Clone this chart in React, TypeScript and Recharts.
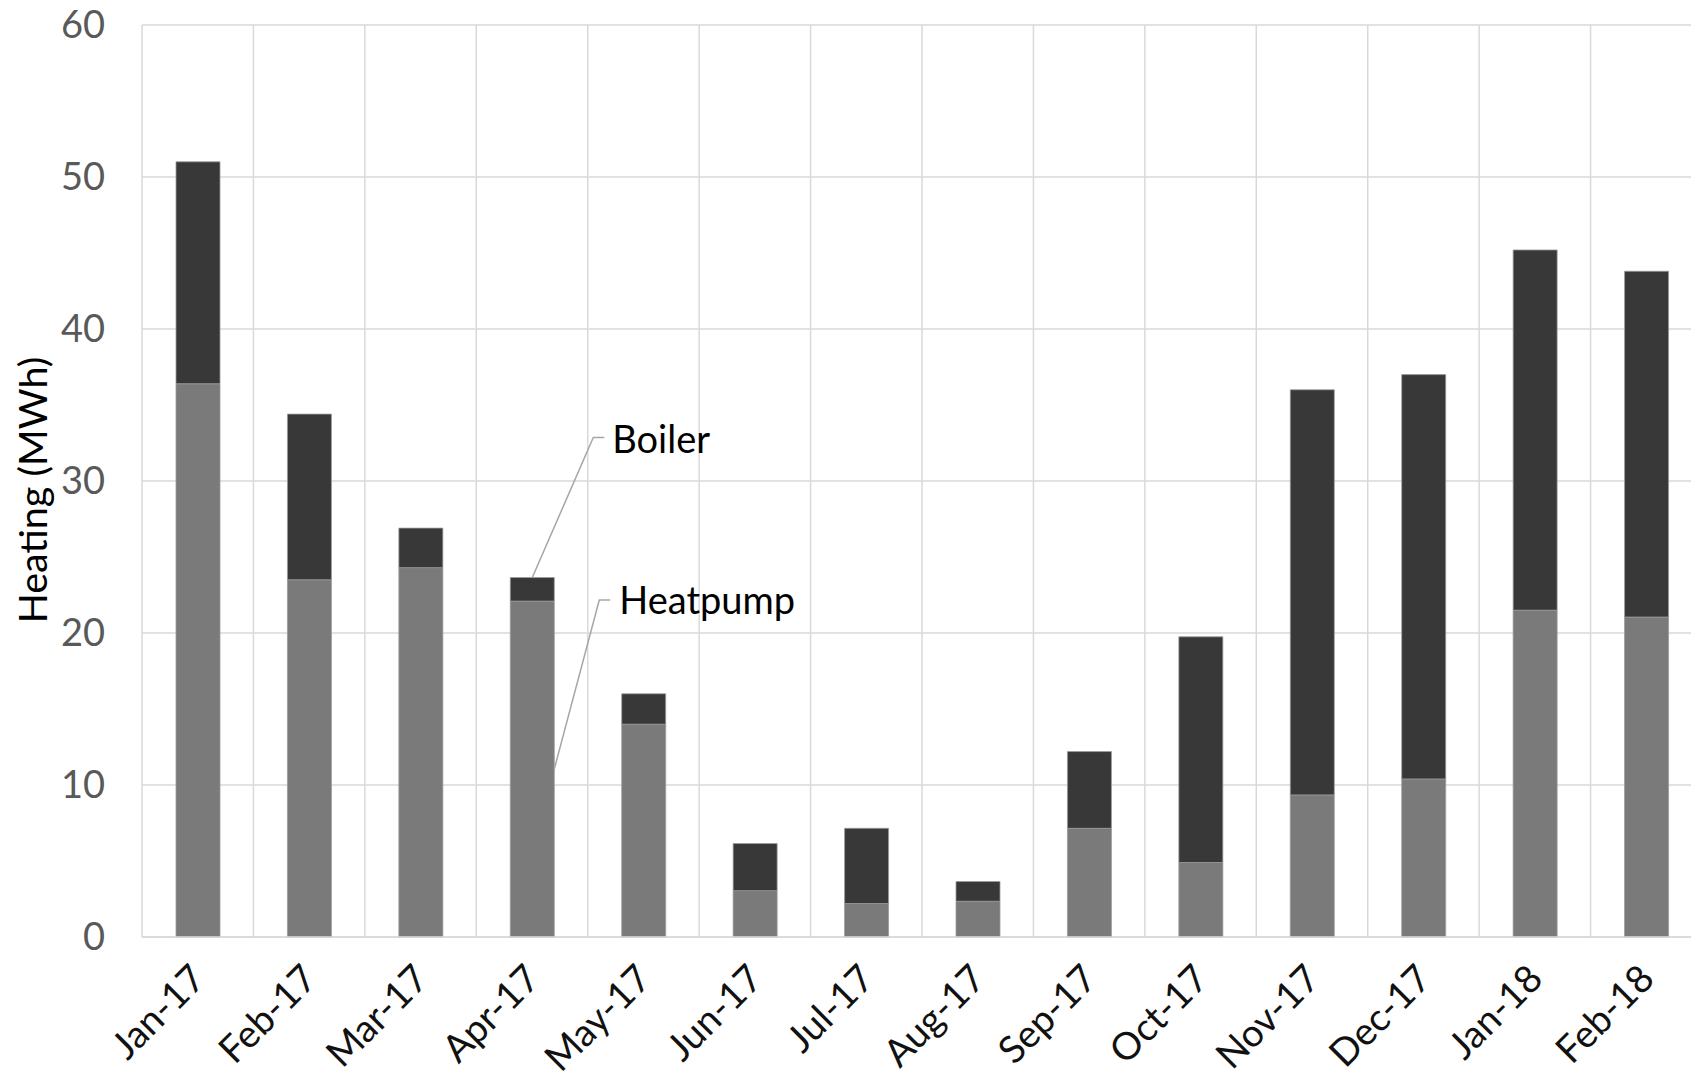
import React from 'react';
import { BarChart, Bar, XAxis, YAxis, CartesianGrid, LabelList, Label } from 'recharts';

// Monthly heating delivered, split by source (MWh)
const months = [
  'Jan-17', 'Feb-17', 'Mar-17', 'Apr-17', 'May-17', 'Jun-17', 'Jul-17',
  'Aug-17', 'Sep-17', 'Oct-17', 'Nov-17', 'Dec-17', 'Jan-18', 'Feb-18',
];
const heatpump = [36.4, 23.5, 24.3, 22.1, 14.0, 3.05, 2.2, 2.35, 7.15, 4.9, 9.35, 10.4, 21.5, 21.05];
const boiler = [14.6, 10.9, 2.6, 1.55, 2.0, 3.1, 4.95, 1.3, 5.05, 14.85, 26.65, 26.6, 23.7, 22.75];
const yTicks = [0, 10, 20, 30, 40, 50, 60];

const data = months.map((month, i) => ({ month, heatpump: heatpump[i], boiler: boiler[i] }));

const FONT = 'Lato, "Open Sans", "DejaVu Sans", sans-serif';
const GRID = '#d9d9d9';
const BOILER_FILL = '#383838';
const HEATPUMP_FILL = '#7a7a7a';
const LEADER = '#a6a6a6';
// series labels are attached to this month's bar
const CALLOUT_INDEX = 3;

const MonthTick = (props: any) => {
  const { x, y, payload } = props;
  return (
    <g transform={`translate(${Number(x) + 10},${Number(y) + 36})`}>
      <text textAnchor="end" transform="rotate(-45)" fontFamily={FONT} fontSize={38} fill="#111111">
        {payload.value}
      </text>
    </g>
  );
};

const ValueTick = (props: any) => {
  const { x, y, payload } = props;
  return (
    <text x={x} y={y} dy={13} textAnchor="end" fontFamily={FONT} fontSize={38} fill="#595959">
      {payload.value}
    </text>
  );
};

const BoilerCallout = (props: any) => {
  const { x, y, width, index } = props;
  if (index !== CALLOUT_INDEX) return null;
  const x0 = Number(x) + Number(width) / 2;
  const y0 = Number(y);
  const x1 = x0 + 61;
  const y1 = y0 - 140;
  return (
    <g>
      <polyline points={`${x0},${y0} ${x1},${y1} ${x1 + 11},${y1}`} fill="none" stroke={LEADER} strokeWidth={1.5} />
      <text x={x1 + 19} y={y1 + 15} fontFamily={FONT} fontSize={38} fill="#000000">
        Boiler
      </text>
    </g>
  );
};

const HeatpumpCallout = (props: any) => {
  const { x, y, width, height, index } = props;
  if (index !== CALLOUT_INDEX) return null;
  const x0 = Number(x) + Number(width);
  const y0 = Number(y) + Number(height) / 2;
  const x1 = x0 + 45;
  const y1 = y0 - 169;
  return (
    <g>
      <polyline points={`${x0},${y0} ${x1},${y1} ${x1 + 11},${y1}`} fill="none" stroke={LEADER} strokeWidth={1.5} />
      <text x={x1 + 20} y={y1 + 14} fontFamily={FONT} fontSize={38} fill="#000000">
        Heatpump
      </text>
    </g>
  );
};

const AxisTitle = (props: any) => {
  const vb = props.viewBox || { x: 0, y: 0, width: 0, height: 0 };
  const tx = vb.x + 47;
  const ty = vb.y + vb.height / 2 + 9;
  return (
    <text
      x={tx}
      y={ty}
      transform={`rotate(-90, ${tx}, ${ty})`}
      textAnchor="middle"
      fontFamily={FONT}
      fontSize={39.5}
      fill="#000000"
    >
      Heating (MWh)
    </text>
  );
};

export default function App() {
  return (
    <div
      style={{
        position: 'fixed',
        left: 0,
        top: 0,
        width: 1691,
        height: 1081,
        overflow: 'hidden',
        background: '#ffffff',
      }}
    >
      <BarChart
        width={1702}
        height={1081}
        data={data}
        margin={{ top: 25, right: 0, bottom: 0, left: 0 }}
        barSize={44}
      >
        <CartesianGrid
          stroke={GRID}
          strokeWidth={1.5}
          verticalCoordinatesGenerator={({ offset }: any) =>
            [...months.map((_, i) => offset.left + (i * offset.width) / months.length), offset.left + offset.width]
          }
        />
        <XAxis
          dataKey="month"
          height={144}
          interval={0}
          tickLine={false}
          axisLine={{ stroke: GRID, strokeWidth: 1.5 }}
          tick={<MonthTick />}
        />
        <YAxis
          width={142}
          domain={[0, 60]}
          ticks={yTicks}
          interval={0}
          tickLine={false}
          axisLine={false}
          tickSize={6}
          tickMargin={31}
          tick={<ValueTick />}
        >
          <Label content={<AxisTitle />} />
        </YAxis>
        <Bar dataKey="heatpump" stackId="heat" fill={HEATPUMP_FILL} stroke="#9a9a9a" strokeWidth={0.8} isAnimationActive={false}>
          <LabelList dataKey="heatpump" content={<HeatpumpCallout />} />
        </Bar>
        <Bar dataKey="boiler" stackId="heat" fill={BOILER_FILL} stroke="#9a9a9a" strokeWidth={0.8} isAnimationActive={false}>
          <LabelList dataKey="boiler" content={<BoilerCallout />} />
        </Bar>
      </BarChart>
    </div>
  );
}
